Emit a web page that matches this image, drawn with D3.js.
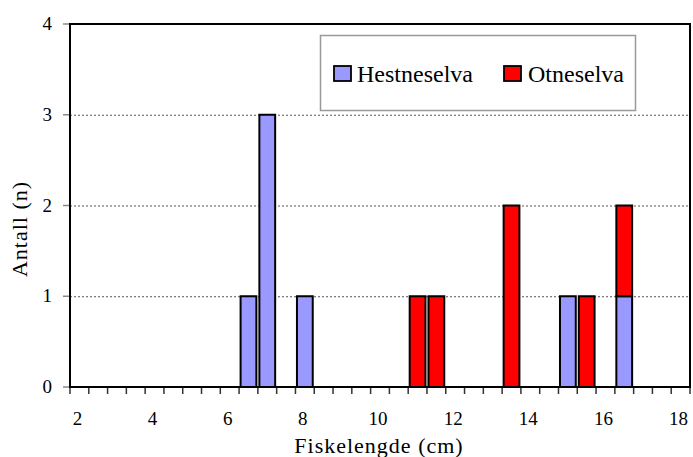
<!DOCTYPE html>
<html>
<head>
<meta charset="utf-8">
<script src="https://cdn.jsdelivr.net/npm/d3@7/dist/d3.min.js"></script>
</head>
<body style="margin:0">
<svg id="chart" width="693" height="457" font-family="Liberation Serif"></svg>
<script>
// length classes (cm), 0.5 cm bins
var lengthBins = [2, 2.5, 3, 3.5, 4, 4.5, 5, 5.5, 6, 6.5, 7, 7.5, 8, 8.5, 9, 9.5, 10,
  10.5, 11, 11.5, 12, 12.5, 13, 13.5, 14, 14.5, 15, 15.5, 16, 16.5, 17, 17.5, 18];
var xTickLabels = [2, 4, 6, 8, 10, 12, 14, 16, 18];
var yTicks = [0, 1, 2, 3, 4];

var seriesNames = ['Hestneselva', 'Otneselva'];
var seriesColors = ['#9999ff', '#ff0000'];

// counts per length class, only classes with fish
var hestLengths = [6.5, 7, 8, 15, 16.5];
var hestCounts  = [1, 3, 1, 1, 1];
var otneLengths = [11, 11.5, 13.5, 15.5, 16.5];
var otneCounts  = [1, 1, 2, 1, 1];

var svg = d3.select('#chart');
var mLeft = 70, mRight = 690, mTop = 24, mBottom = 387;

var x = d3.scaleBand()
  .domain(lengthBins)
  .range([mLeft, mRight])
  .paddingInner(0.16)
  .paddingOuter(0.08);
var y = d3.scaleLinear().domain([0, 4]).range([mBottom, mTop]);

// table: one row per bin
var table = lengthBins.map(function (b) {
  var hi = hestLengths.indexOf(b), oi = otneLengths.indexOf(b);
  return {
    bin: b,
    Hestneselva: hi >= 0 ? hestCounts[hi] : 0,
    Otneselva: oi >= 0 ? otneCounts[oi] : 0
  };
});
var stacked = d3.stack().keys(seriesNames)(table);

// gridlines
svg.selectAll('line.grid')
  .data(yTicks.filter(function (d) { return d > 0 && d < 4; }))
  .enter().append('line')
  .attr('class', 'grid')
  .attr('x1', mLeft).attr('x2', mRight)
  .attr('y1', function (d) { return y(d) + 0.5; })
  .attr('y2', function (d) { return y(d) + 0.5; })
  .attr('stroke', '#555')
  .attr('stroke-width', 1)
  .attr('stroke-dasharray', '2,2');

// legend box
svg.append('rect')
  .attr('x', 320.5).attr('y', 35.5).attr('width', 315).attr('height', 75)
  .attr('fill', '#fff').attr('stroke', '#999').attr('stroke-width', 1.5);
var legendX = [334, 504], legendTx = [357, 528];
seriesNames.forEach(function (name, i) {
  svg.append('rect')
    .attr('x', legendX[i]).attr('y', 66)
    .attr('width', 17).attr('height', 15)
    .attr('fill', seriesColors[i]).attr('stroke', '#000').attr('stroke-width', 1.8);
  svg.append('text')
    .attr('x', legendTx[i]).attr('y', 82)
    .attr('font-size', 24)
    .attr('font-family', 'Liberation Serif')
    .style('font-family', '"Liberation Serif"')
    .text(name);
});

// bars
svg.selectAll('g.series')
  .data(stacked)
  .enter().append('g')
  .attr('class', 'series')
  .attr('fill', function (d, i) { return seriesColors[i]; })
  .selectAll('rect')
  .data(function (d) { return d.filter(function (s) { return s[1] > s[0]; }); })
  .enter().append('rect')
  .attr('x', function (d) { return x(d.data.bin); })
  .attr('y', function (d) { return y(d[1]); })
  .attr('width', x.bandwidth())
  .attr('height', function (d) { return y(d[0]) - y(d[1]); })
  .attr('stroke', '#000')
  .attr('stroke-width', 2);

// frame top/right
svg.append('path')
  .attr('d', 'M' + mLeft + ',' + mTop + 'H' + mRight + 'V' + mBottom)
  .attr('fill', 'none').attr('stroke', '#000').attr('stroke-width', 2);

// y axis
svg.selectAll('line.ytick')
  .data(yTicks).enter().append('line')
  .attr('class', 'ytick')
  .attr('x1', 63).attr('x2', mLeft)
  .attr('y1', function (d) { return y(d); })
  .attr('y2', function (d) { return y(d); })
  .attr('stroke', '#888').attr('stroke-width', 1.5);
svg.selectAll('text.ylab')
  .data(yTicks).enter().append('text')
  .attr('class', 'ylab')
  .attr('x', 52)
  .attr('y', function (d) { return y(d) + 6; })
  .attr('text-anchor', 'end')
  .attr('font-size', 19)
  .attr('font-family', 'Liberation Serif')
  .style('font-family', '"Liberation Serif"')
  .text(function (d) { return d; });
svg.append('line')
  .attr('x1', mLeft).attr('x2', mLeft).attr('y1', mTop - 1).attr('y2', mBottom + 1)
  .attr('stroke', '#000').attr('stroke-width', 2);

// x axis, ticks between categories
var step = x.step();
var x0 = x(lengthBins[0]) - x.paddingOuter() * step;
var bounds = lengthBins.map(function (d, i) { return x0 + i * step; }).concat([x0 + lengthBins.length * step]);
svg.selectAll('line.xtick')
  .data(bounds).enter().append('line')
  .attr('class', 'xtick')
  .attr('x1', function (d) { return d; })
  .attr('x2', function (d) { return d; })
  .attr('y1', mBottom).attr('y2', mBottom + 7)
  .attr('stroke', '#333').attr('stroke-width', 1.5);
svg.append('line')
  .attr('x1', mLeft - 1).attr('x2', mRight + 1).attr('y1', mBottom).attr('y2', mBottom)
  .attr('stroke', '#000').attr('stroke-width', 2);
svg.selectAll('text.xlab')
  .data(xTickLabels).enter().append('text')
  .attr('class', 'xlab')
  .attr('x', function (d) { return x(d) + x.bandwidth() / 2 - 2; })
  .attr('y', 425)
  .attr('text-anchor', 'middle')
  .attr('font-size', 19)
  .attr('font-family', 'Liberation Serif')
  .style('font-family', '"Liberation Serif"')
  .text(function (d) { return d; });

// axis titles
svg.append('text')
  .attr('x', 379).attr('y', 453)
  .attr('text-anchor', 'middle')
  .attr('font-size', 22)
  .attr('letter-spacing', 1)
  .attr('font-family', 'Liberation Serif')
  .style('font-family', '"Liberation Serif"')
  .text('Fiskelengde (cm)');
svg.append('text')
  .attr('transform', 'translate(27,229) rotate(-90)')
  .attr('text-anchor', 'middle')
  .attr('font-size', 22)
  .attr('letter-spacing', 1)
  .attr('font-family', 'Liberation Serif')
  .style('font-family', '"Liberation Serif"')
  .text('Antall (n)');
</script>
</body>
</html>
